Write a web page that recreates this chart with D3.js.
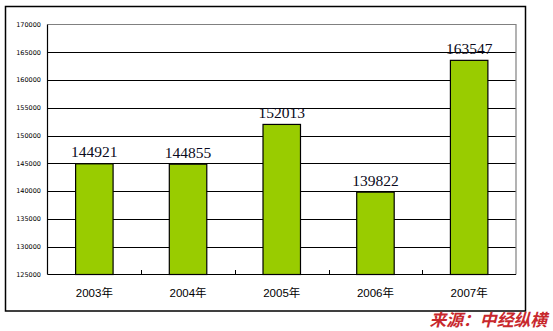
<!DOCTYPE html>
<html><head><meta charset="utf-8">
<script src="https://cdn.jsdelivr.net/npm/d3@7"></script>
<style>body{margin:0;background:#fff}svg{display:block}</style>
</head><body>
<svg id="c" width="553" height="331"></svg>
<script>
const categories = ["2003年","2004年","2005年","2006年","2007年"];
const values = [144921,144855,152013,139822,163547];
const yTicks = [125000,130000,135000,140000,145000,150000,155000,160000,165000,170000];
const source = "来源：中经纵横";

const svg = d3.select("#c");
const L = 47.5, T = 24.5, R = 516, B = 274.5;

svg.append("rect").attr("x",5.5).attr("y",6.5).attr("width",520).attr("height",304.5)
  .attr("fill","#fff").attr("stroke","#000").attr("stroke-width",1.5);

const x = d3.scaleBand().domain(categories).range([L,R]).paddingInner(0.6).paddingOuter(0.3);
const xb = d3.scaleBand().domain(categories).range([L,R]);
const y = d3.scaleLinear().domain([125000,170000]).range([B,T]);

// gridlines
svg.append("g").selectAll("line").data(yTicks.slice(1,-1)).join("line")
  .attr("x1",L).attr("x2",R).attr("y1",d=>Math.round(y(d))+0.5).attr("y2",d=>Math.round(y(d))+0.5)
  .attr("stroke","#000").attr("stroke-width",1);

// plot border top/right grey
svg.append("path").attr("d",`M${L},${T}H${R}V${B}`).attr("fill","none").attr("stroke","#808080").attr("stroke-width",1.2);

// bars
svg.append("g").selectAll("rect").data(values).join("rect")
  .attr("x",(d,i)=>x(categories[i])).attr("width",x.bandwidth())
  .attr("y",d=>y(d)).attr("height",d=>B-y(d))
  .attr("fill","#99cc00").attr("stroke","#000").attr("stroke-width",1.2);

// axes
svg.append("line").attr("x1",L).attr("x2",L).attr("y1",T).attr("y2",B).attr("stroke","#000").attr("stroke-width",1.2);
svg.append("line").attr("x1",L).attr("x2",R).attr("y1",B).attr("y2",B).attr("stroke","#000").attr("stroke-width",1.2);
svg.append("g").selectAll("line").data(categories.slice(1)).join("line")
  .attr("x1",d=>Math.round(xb(d))+0.5).attr("x2",d=>Math.round(xb(d))+0.5).attr("y1",B-4.5).attr("y2",B)
  .attr("stroke","#000");

// y labels
svg.append("g").selectAll("text").data(yTicks).join("text")
  .attr("x",41).attr("y",d=>y(d)).attr("dy","0.35em").attr("text-anchor","end")
  .attr("font-family","DejaVu Sans, sans-serif").attr("font-size",6.5).attr("fill","#000")
  .text(d=>d);

// x labels
svg.append("g").selectAll("text").data(categories).join("text")
  .attr("x",d=>xb(d)+xb.bandwidth()/2).attr("y",297).attr("text-anchor","middle")
  .attr("font-family","Liberation Sans, Noto Sans CJK SC, sans-serif").attr("font-size",11.5).attr("fill","#000")
  .text(d=>d);

// value labels
svg.append("g").selectAll("text").data(values).join("text")
  .attr("x",(d,i)=>x(categories[i])+x.bandwidth()/2).attr("y",d=>y(d)-12).attr("dy","0.35em")
  .attr("text-anchor","middle").attr("font-family","Liberation Serif, serif").attr("font-size",15.5)
  .attr("fill","#0a0a20").text(d=>d);

// source
svg.append("text").attr("x",547).attr("y",325.5).attr("text-anchor","end")
  .attr("font-family","Noto Sans CJK SC, sans-serif").attr("font-weight","bold").attr("font-style","italic")
  .attr("font-size",16.8).attr("fill","#c8282d").text(source);
</script>
</body></html>
